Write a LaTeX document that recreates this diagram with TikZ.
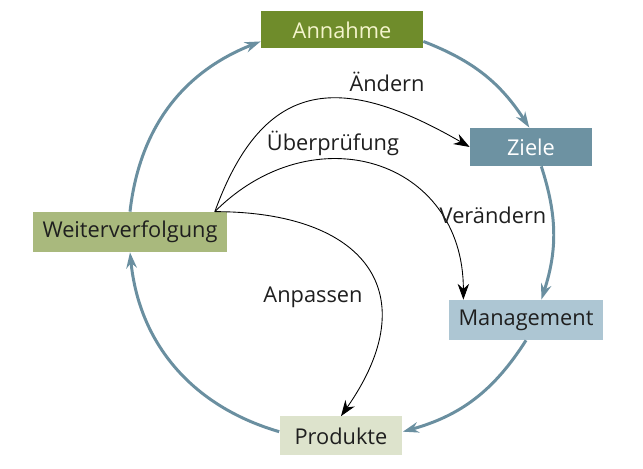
\documentclass[tikz,border=0pt]{standalone}
\usepackage{fontspec}
\setmainfont{Open Sans}
\usetikzlibrary{arrows.meta}
\definecolor{annfill}{HTML}{6F8C2B}
\definecolor{anntext}{HTML}{F4F4CC}
\definecolor{zielfill}{HTML}{6D92A2}
\definecolor{weitfill}{HTML}{A9B97D}
\definecolor{manfill}{HTML}{ADC6D3}
\definecolor{prodfill}{HTML}{DDE3CC}
\definecolor{ringblue}{HTML}{6A8FA0}
\begin{document}
\begin{tikzpicture}[x=0.02cm,y=0.02cm,
  box/.style={inner sep=0pt,font=\fontsize{12.4}{14}\selectfont,text=black!88},
  ring/.style={draw=ringblue,line width=1.7pt,-{Stealth[length=9pt,width=6pt]}},
  flow/.style={draw,line width=0.5pt,-{Stealth[length=9pt,width=6.5pt]}},
  lbl/.style={font=\fontsize{12.4}{14}\selectfont,text=black!88}]
  \useasboundingbox (0,0) rectangle (643,469);
  \node[box,fill=annfill,text=anntext,minimum width=3.24cm,minimum height=0.74cm] (ann) at (342,439) {Annahme};
  \node[box,fill=zielfill,text=white,minimum width=2.44cm,minimum height=0.76cm] (zie) at (531,322) {Ziele};
  \node[box,fill=manfill,minimum width=3.08cm,minimum height=0.8cm] (man) at (526,149) {Management};
  \node[box,fill=prodfill,minimum width=2.46cm,minimum height=0.78cm] (pro) at (341,33) {Produkte};
  \node[box,fill=weitfill,minimum width=3.9cm,minimum height=0.8cm] (wei) at (130,237) {Weiterverfolgung};
  % outer ring
  \draw[ring] (ann.-8) to[bend left=18] (zie.95);
  \draw[ring] (zie.-62) to[bend left=18] (man.53);
  \draw[ring] (man.south) to[bend left=21] (pro.4);
  \draw[ring] (pro.176) to[bend left=34] (wei.south);
  \draw[ring] (wei.north) to[bend left=31] (ann.188);
  % inner arrows
  \coordinate (src) at ([xshift=-0.26cm]wei.north east);
  \draw[flow] (src) to[out=70,in=150,looseness=1.42] (zie.west);
  \draw[flow] (src) to[out=45,in=90,looseness=1.36] (man.162);
  \draw[flow] (src) to[out=0,in=55,looseness=1.6] (pro.north);
  \node[lbl] (aen) at (387,387) {Ändern};
  \node[lbl] (ueb) at (333,326) {Überprüfung};
  \node[lbl] (ver) at (493,254) {Verändern};
  \node[lbl] (anp) at (313,172) {Anpassen};
\end{tikzpicture}
\end{document}
